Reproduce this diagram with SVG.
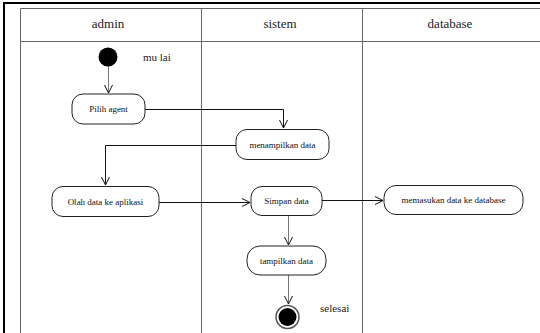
<svg xmlns="http://www.w3.org/2000/svg" width="540" height="333" viewBox="0 0 540 333">
<style>
.frame{fill:none;stroke:#000;stroke-width:2}
.lane{fill:none;stroke:#666;stroke-width:1}
.hdr{font-family:"Liberation Serif",serif;font-size:13px;fill:#222;text-anchor:middle}
.node{fill:#fff;stroke:#222;stroke-width:1}
.lbl{font-family:"Liberation Serif",serif;font-size:9px;fill:#111;text-anchor:middle}
.note{font-family:"Liberation Serif",serif;font-size:11px;fill:#222}
.c{fill:none;stroke:#111;stroke-width:1}
.cg{fill:none;stroke:#777;stroke-width:1}
</style>
<defs>
<marker id="arr" markerWidth="10" markerHeight="10" refX="9" refY="5" orient="auto" markerUnits="userSpaceOnUse">
<path d="M1,1 L9,5 L1,9" fill="none" stroke="#111" stroke-width="1"/>
</marker>
</defs>
<rect width="540" height="333" fill="#fff"/>
<g id="frame">
<path class="frame" d="M4,333 V3 H540"/>
<path class="lane" d="M20.5,333 V8.5 H540 M20.5,41.5 H540 M201.5,8 V333 M362.5,8 V333"/>
<text class="hdr" x="108" y="28">admin</text>
<text class="hdr" x="280" y="28">sistem</text>
<text class="hdr" x="450" y="28">database</text>
</g>
<g id="connectors">
<path class="cg" d="M108.5,66 V93" marker-end="url(#arr)"/>
<path class="c" d="M145,109.5 H283.5 V128" marker-end="url(#arr)"/>
<path class="c" d="M236,145.5 H105.5 V185" marker-end="url(#arr)"/>
<path class="c" d="M159,202.5 H250" marker-end="url(#arr)"/>
<path class="c" d="M322,200.5 H383" marker-end="url(#arr)"/>
<path class="cg" d="M288.5,216 V245" marker-end="url(#arr)"/>
<path class="cg" d="M288.5,275 V304" marker-end="url(#arr)"/>
</g>
<g id="mulai">
<circle cx="108" cy="57" r="9.5" fill="#000"/>
<text class="note" x="143" y="61">mu lai</text>
</g>
<g id="pilih-agent">
<rect class="node" x="72" y="94" width="73" height="30" rx="11"/>
<text class="lbl" x="108.5" y="112">Pilih agent</text>
</g>
<g id="menampilkan-data">
<rect class="node" x="236" y="129.5" width="93" height="30" rx="11"/>
<text class="lbl" x="282.5" y="147.5">menampilkan data</text>
</g>
<g id="olah-data">
<rect class="node" x="52" y="186.5" width="107" height="30" rx="11"/>
<text class="lbl" x="105.5" y="204.5">Olah data ke aplikasi</text>
</g>
<g id="simpan-data">
<rect class="node" x="251" y="186.5" width="71" height="29" rx="11"/>
<text class="lbl" x="286.5" y="204">Simpan data</text>
</g>
<g id="memasukan-data">
<rect class="node" x="384" y="185.5" width="139" height="29" rx="12"/>
<text class="lbl" x="453.5" y="203">memasukan data ke database</text>
</g>
<g id="tampilkan-data">
<rect class="node" x="247" y="246" width="79" height="29" rx="13"/>
<text class="lbl" x="286.5" y="263.5">tampilkan data</text>
</g>
<g id="selesai">
<circle cx="287.5" cy="317" r="11.5" fill="#fff" stroke="#555" stroke-width="1.5"/>
<circle cx="287.5" cy="317" r="9" fill="#000"/>
<text class="note" x="320" y="312">selesai</text>
</g>
</svg>
